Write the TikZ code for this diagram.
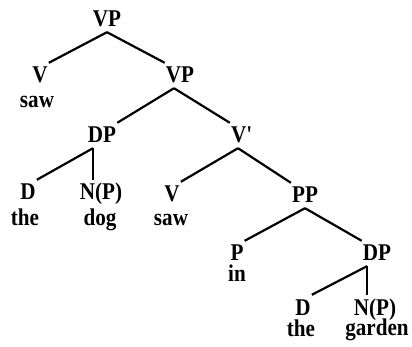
\documentclass[tikz,border=0pt]{standalone}
\usepackage{fontspec}
\setmainfont{Liberation Serif}
\newfontfamily\treefont[FakeStretch=0.88]{Liberation Serif}
\usetikzlibrary{positioning}
\begin{document}
\begin{tikzpicture}[
  x=1pt, y=-1pt,
  lbl/.style={inner xsep=1pt, inner ysep=3pt, text height=17pt, text depth=2pt, anchor=base, font=\treefont\fontsize{24}{26}\selectfont\bfseries},
  wrd/.style={inner sep=0pt, text height=15pt, text depth=4pt, font=\treefont\fontsize{24}{26}\selectfont\bfseries},
  br/.style={line width=2.2pt},
  node distance=4pt
]
\useasboundingbox (0,0) rectangle (412,347);
% category labels
\node[lbl] (vp1) at (107,27) {VP};
\node[lbl] (v1) at (40,83) {V};
\node[lbl] (vp2) at (180,83) {VP};
\node[lbl] (dp1) at (102,143) {DP};
\node[lbl] (vb) at (242,143) {V\textquotesingle};
\node[lbl] (d1) at (28,200) {D};
\node[lbl] (np1) at (101,200) {N(P)};
\node[lbl] (v2) at (172,202) {V};
\node[lbl] (pp) at (305,203) {PP};
\node[lbl] (p) at (237,261) {P};
\node[lbl] (dp2) at (377,261) {DP};
\node[lbl] (d2) at (303,315) {D};
\node[lbl] (np2) at (375,315) {N(P)};

% words
\node[wrd, below=of v1, xshift=-3pt] (saw1) {saw};
\node[wrd, below=5pt of d1, xshift=-3pt] (the1) {the};
\node[wrd, below=5pt of np1, xshift=-1pt] (dog) {dog};
\node[wrd, below=3pt of v2, xshift=-1pt] (saw2) {saw};
\node[wrd, below=0pt of p] (in) {in};
\node[wrd, below=1pt of d2, xshift=-2pt] (the2) {the};
\node[wrd, below=0pt of np2, xshift=2pt] (garden) {garden};

% heads of the DPs sit under the D
\coordinate (dp1h) at ([xshift=-9pt]dp1.south);
\coordinate (dp2h) at ([xshift=-10pt]dp2.south);

% branches
\draw[br] (vp1.south) -- (v1.north east);
\draw[br] (vp1.south) -- (vp2.north west);
\draw[br] ([xshift=-6pt]vp2.south) -- (dp1.north east);
\draw[br] ([xshift=-6pt]vp2.south) -- (vb.north west);
\draw[br] (dp1h) -- (d1.north east);
\draw[br] (dp1h) -- (dp1h |- np1.north);
\draw[br] ([xshift=-4pt]vb.south) -- (v2.north east);
\draw[br] ([xshift=-4pt]vb.south) -- (pp.north west);
\draw[br] (pp.south) -- (p.north east);
\draw[br] (pp.south) -- (dp2.north west);
\draw[br] (dp2h) -- (d2.north east);
\draw[br] (dp2h) -- (dp2h |- np2.north);
\end{tikzpicture}
\end{document}
